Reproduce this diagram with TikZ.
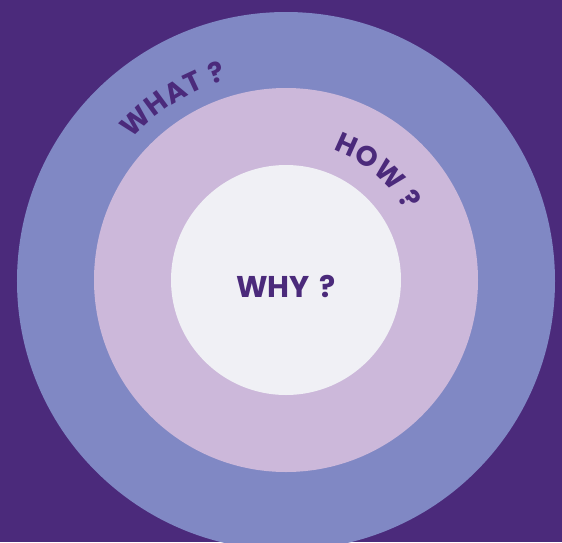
\documentclass[tikz,border=0pt]{standalone}
\usepackage{fontspec}
\setmainfont{Poppins}
\usetikzlibrary{decorations.text}
\definecolor{bgpurple}{HTML}{4B2A7B}
\definecolor{outerring}{HTML}{8088C4}
\definecolor{midring}{HTML}{CCB8DA}
\definecolor{innercore}{HTML}{F0F0F5}
\tikzset{
  ring/.style={draw=none},
  arclabel/.style={decorate, decoration={text effects along path, text align=center,
    text effects/.cd, text along path, characters={text=bgpurple, font=\bfseries\fontsize{28}{28}\selectfont, inner xsep=0.5pt}}}
}
\begin{document}
\begin{tikzpicture}[x=1pt,y=1pt]
\fill[bgpurple] (-286,-262) rectangle (276,280);
\useasboundingbox (-286,-262) rectangle (276,280);
\fill[outerring,ring] (0,-1) circle[radius=269];
\fill[midring,ring] (0,0) circle[radius=192];
\node[circle, fill=innercore, minimum size=230pt, inner sep=0pt] (why) at (0,0) {};
\node[text=bgpurple, font=\bfseries\fontsize{30}{30}\selectfont] (whylabel) at (0,-6) {WHY\,\,?};
\path[arclabel, decoration={text={WHAT ?}}]
  (144:209) arc[start angle=144, end angle=100, radius=209];
\path[arclabel, decoration={text={HOW ?}}]
  (72:138) arc[start angle=72, end angle=28, radius=138];
\end{tikzpicture}
\end{document}
